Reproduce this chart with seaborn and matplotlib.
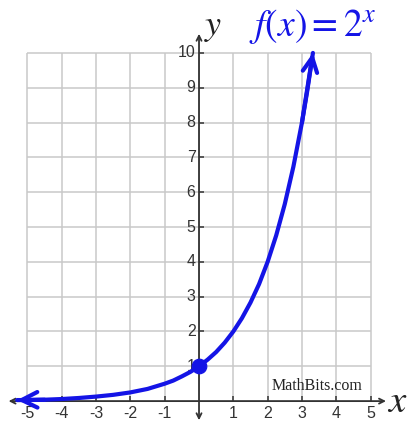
import matplotlib
matplotlib.use("Agg")
import matplotlib.pyplot as plt
import seaborn as sns
import pandas as pd

# values
x_vals = [-5.3, -5.0, -4.5, -4.0, -3.5, -3.0, -2.5, -2.0, -1.5, -1.0, -0.75,
          -0.5, -0.25, 0.0, 0.25, 0.5, 0.75, 1.0, 1.25, 1.5, 1.75, 2.0, 2.25,
          2.5, 2.75, 3.0, 3.15, 3.32]
y_vals = [0.03, 0.03, 0.04, 0.06, 0.09, 0.13, 0.18, 0.25, 0.35, 0.50, 0.59,
          0.71, 0.84, 1.00, 1.19, 1.41, 1.68, 2.00, 2.38, 2.83, 3.36, 4.00, 4.76,
          5.66, 6.73, 8.00, 8.88, 10.0]
x_ticks = [-5, -4, -3, -2, -1, 1, 2, 3, 4, 5]
y_ticks = [1, 2, 3, 4, 5, 6, 7, 8, 9, 10]
point_x, point_y = [0], [1]

sns.set_theme(style="white")
plt.rcParams["font.family"] = ["Liberation Sans", "DejaVu Sans"]
plt.rcParams["mathtext.fontset"] = "stix"

blue = "#1414e6"
grid_c = "#c9c9c9"
axis_c = "#333333"

fig = plt.figure(figsize=(4.09, 4.22), dpi=100)
ax = fig.add_axes([0, 0, 1, 1])

# grid
ax.vlines(range(-5, 6), 0, 10, color=grid_c, lw=1.1, zorder=1)
ax.hlines(range(0, 11), -5, 5, color=grid_c, lw=1.1, zorder=1)

# axes with arrows
ax.annotate("", xy=(5.45, 0), xytext=(-5.55, 0),
            arrowprops=dict(arrowstyle="<->", color=axis_c, lw=1.3,
                            shrinkA=0, shrinkB=0, mutation_scale=9), zorder=2)
ax.annotate("", xy=(0, 10.55), xytext=(0, -0.55),
            arrowprops=dict(arrowstyle="<->", color=axis_c, lw=1.3,
                            shrinkA=0, shrinkB=0, mutation_scale=9), zorder=2)

# tick marks and labels
ax.vlines(x_ticks, 0, 0.15, color=axis_c, lw=1.1, zorder=2)
ax.hlines(y_ticks, 0, 0.15, color=axis_c, lw=1.1, zorder=2)
for t in x_ticks:
    ax.text(t, -0.36, str(t), ha="center", va="center", fontsize=11.5, color=axis_c)
for t in y_ticks:
    ax.text(-0.1, t, str(t), ha="right", va="center", fontsize=11.5, color=axis_c)

# curve
df = pd.DataFrame({"x": x_vals, "y": y_vals})
sns.lineplot(data=df, x="x", y="y", sort=False, estimator=None, color=blue,
             lw=3, ax=ax, zorder=4)
ax.annotate("", xy=(x_vals[0], y_vals[0]), xytext=(x_vals[2], y_vals[2]),
            arrowprops=dict(arrowstyle="->", color=blue, lw=3,
                            shrinkA=0, shrinkB=0, mutation_scale=28), zorder=5)
ax.annotate("", xy=(x_vals[-1], y_vals[-1]), xytext=(x_vals[-3], y_vals[-3]),
            arrowprops=dict(arrowstyle="->", color=blue, lw=3,
                            shrinkA=0, shrinkB=0, mutation_scale=26), zorder=5)
sns.scatterplot(x=point_x, y=point_y, color=blue, s=110, edgecolor=blue,
                ax=ax, zorder=6)
ax.set_xlim(-5.80, 6.12)
ax.set_ylim(-0.60, 11.52)
ax.set_axis_off()

# labels
ax.text(3.32, 10.75, r"$f(x) = 2^x$", ha="center", va="center", fontsize=27, color=blue)
ax.text(0.42, 10.75, r"$y$", ha="center", va="center", fontsize=26, color="#222222")
ax.text(5.78, -0.02, r"$x$", ha="center", va="center", fontsize=28, color="#222222")
ax.text(3.44, 0.42, "MathBits.com", ha="center", va="center", fontsize=11.5,
        family=["Liberation Serif", "DejaVu Serif"], color="#222222")

fig.savefig("out.png", dpi=100)
